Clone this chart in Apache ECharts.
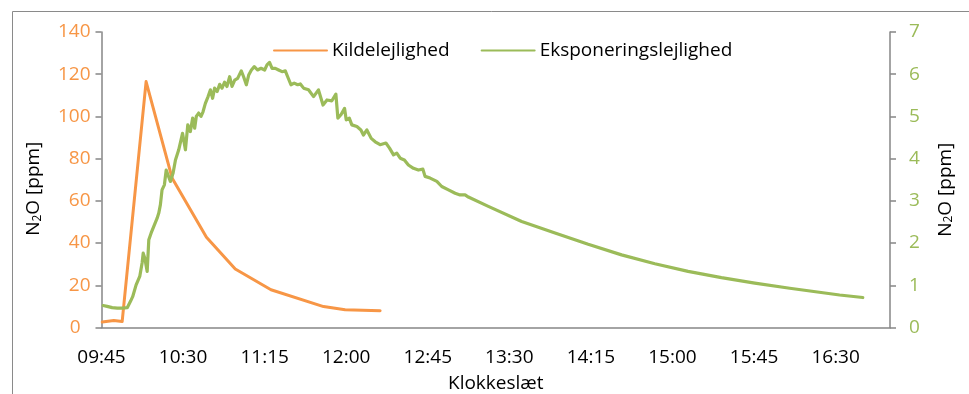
<!DOCTYPE html>
<html>
<head>
<meta charset="utf-8">
<script src="https://cdn.jsdelivr.net/npm/echarts@6/dist/echarts.min.js"></script>
<style>
  html, body { margin: 0; padding: 0; background: #fff; }
  #chart { width: 969px; height: 394px; }
</style>
</head>
<body>
<div id="chart"></div>
<script>
// Time given as minutes after 09:45
const startClockMin = 585; // 09:45
const xTickStep = 45;
const xMax = 435;          // 17:00

const sourceName = 'Kildelejlighed';
const exposureName = 'Eksponeringslejlighed';

const leftTicks = [0, 140, 20];   // min, max, step
const rightTicks = [0, 7, 1];

// Kildelejlighed (left axis, ppm)
const orangeMin = [0.4, 6.8, 11.4, 24.6, 39.0, 57.9, 73.8, 93.5, 122.5, 134.4, 153.7];
const orangePpm = [2.6, 3.3, 2.8, 116.5, 70.7, 42.8, 27.7, 17.9, 9.9, 8.4, 7.9];

// Eksponeringslejlighed (right axis, ppm)
const greenMin = [0.9, 3.1, 5.9, 8.7, 11.4, 14.2, 16.0, 17.2, 19.1, 20.2,
  21.1, 22.4, 23.0, 23.9, 25.2, 26.1, 27.4, 28.8, 30.7, 31.6,
  32.5, 33.4, 34.7, 35.7, 36.8, 38.0, 39.5, 40.8, 42.6, 44.7,
  46.3, 47.6, 49.0, 50.3, 51.4, 52.3, 53.6, 54.9, 56.0, 57.3,
  58.8, 60.1, 61.3, 62.4, 63.8, 65.2, 66.5, 67.9, 69.2, 70.7,
  72.0, 73.5, 75.1, 77.1, 78.4, 79.9, 81.2, 82.7, 84.3, 86.1,
  88.0, 90.0, 91.3, 92.7, 94.1, 95.9, 97.7, 99.6, 101.4, 102.7,
  104.5, 106.3, 108.2, 109.7, 111.5, 114.2, 117.0, 119.7, 122.2, 124.4,
  127.1, 129.3, 130.4, 132.1, 134.1, 135.0, 136.7, 138.1, 140.9, 143.1,
  144.5, 146.4, 148.8, 151.0, 153.7, 156.9, 158.9, 161.1, 162.9, 164.8,
  167.1, 169.3, 172.1, 174.8, 177.3, 178.5, 181.3, 185.0, 187.7, 191.4,
  195.1, 197.8, 200.6, 202.4, 213.4, 231.8, 250.2, 268.5, 286.9, 305.3,
  323.6, 342.0, 360.4, 379.7, 407.2, 420.0];
const greenPpm = [0.52, 0.50, 0.47, 0.46, 0.46, 0.47, 0.62, 0.73, 1.01, 0.97,
  1.21, 1.53, 1.76, 1.64, 1.33, 2.08, 2.24, 2.39, 2.59, 2.71,
  2.91, 3.26, 3.38, 3.73, 3.77, 3.46, 3.66, 3.97, 4.21, 4.60,
  4.21, 4.80, 4.64, 4.96, 4.72, 5.00, 5.08, 5.00, 5.11, 5.31,
  5.47, 5.63, 5.43, 5.67, 5.59, 5.76, 5.67, 5.81, 5.71, 5.94,
  5.71, 5.86, 5.90, 6.08, 5.94, 5.75, 5.98, 6.10, 6.18, 6.10,
  6.14, 6.10, 6.22, 6.28, 6.14, 6.14, 6.10, 6.06, 6.08, 5.94,
  5.75, 5.79, 5.75, 5.77, 5.67, 5.63, 5.47, 5.63, 5.27, 5.39,
  5.37, 5.53, 4.96, 5.04, 5.19, 4.92, 4.96, 4.80, 4.76, 4.68,
  4.56, 4.68, 4.48, 4.40, 4.33, 4.37, 4.25, 4.09, 4.13, 4.01,
  3.97, 3.85, 3.77, 3.73, 3.75, 3.58, 3.54, 3.46, 3.34, 3.26,
  3.18, 3.14, 3.14, 3.09, 2.87, 2.51, 2.24, 1.97, 1.72, 1.51,
  1.33, 1.18, 1.05, 0.93, 0.77, 0.71];

const ORANGE = '#F79646';
const GREEN = '#9BBB59';
const AXIS = '#868686';
const FONT = '"Open Sans", "DejaVu Sans", sans-serif';
const FS = 19;

function clock(m) {
  const t = Math.round(startClockMin + m);
  const h = Math.floor(t / 60), mm = t % 60;
  return String(h).padStart(2, '0') + ':' + String(mm).padStart(2, '0');
}

const chart = echarts.init(document.getElementById('chart'), null, { renderer: 'canvas' });

function nameStyle(padRight) {
  return {
    fontFamily: FONT, fontSize: FS, color: '#000',
    padding: [0, padRight, 0, 0],
    rich: {
      sub: { fontFamily: FONT, fontSize: 12, color: '#000', verticalAlign: 'bottom', lineHeight: 12 }
    }
  };
}

chart.setOption({
  animation: false,
  textStyle: { fontFamily: FONT },
  graphic: [{
    type: 'rect', silent: true, z: -10,
    shape: { x: 12.5, y: 11.5, width: 2000, height: 2000 },
    style: { fill: 'none', stroke: '#8a8a8a', lineWidth: 1 }
  }],
  grid: { left: 101.5, right: 79, top: 32, bottom: 66.5, containLabel: false, outerBoundsMode: 'none' },
  legend: {
    left: 268, top: 36,
    itemWidth: 53, itemHeight: 14, itemGap: 31,
    itemStyle: { opacity: 0, borderWidth: 0 },
    textStyle: { fontFamily: FONT, fontSize: FS, color: '#000' },
    data: [sourceName, exposureName]
  },
  xAxis: {
    type: 'value', min: 0, max: xMax, interval: xTickStep,
    name: 'Klokkeslæt', nameLocation: 'middle', nameGap: 47,
    nameTextStyle: { fontFamily: FONT, fontSize: FS, color: '#000' },
    axisLine: { show: true, onZero: false, lineStyle: { color: AXIS, width: 1.5 } },
    axisTick: { show: false },
    splitLine: { show: false },
    axisLabel: {
      showMaxLabel: false, margin: 21,
      fontFamily: FONT, fontSize: FS, color: '#000',
      formatter: v => clock(v)
    }
  },
  yAxis: [{
    type: 'value', position: 'left',
    min: leftTicks[0], max: leftTicks[1], interval: leftTicks[2],
    name: 'N{sub|2}O [ppm]', nameLocation: 'middle', nameRotate: 90, nameGap: 58,
    nameTextStyle: nameStyle(18),
    axisLine: { show: true, lineStyle: { color: AXIS, width: 1.5 } },
    axisTick: { show: true, length: 6, lineStyle: { color: AXIS, width: 1.5 } },
    splitLine: { show: false },
    axisLabel: {
      margin: 11, fontFamily: FONT, fontSize: FS, color: ORANGE,
      formatter: v => v === 0 ? '{z|0}' : String(v),
      rich: { z: { fontFamily: FONT, fontSize: FS, color: ORANGE, padding: [0, 10, 0, 0] } }
    }
  }, {
    type: 'value', position: 'right',
    min: rightTicks[0], max: rightTicks[1], interval: rightTicks[2],
    name: 'N{sub|2}O [ppm]', nameLocation: 'middle', nameRotate: 90, nameGap: 46,
    nameTextStyle: nameStyle(20),
    axisLine: { show: true, lineStyle: { color: AXIS, width: 1.5 } },
    axisTick: { show: true, length: 6, lineStyle: { color: AXIS, width: 1.5 } },
    splitLine: { show: false },
    axisLabel: { margin: 19, fontFamily: FONT, fontSize: FS, color: GREEN }
  }],
  series: [{
    name: sourceName, type: 'line', yAxisIndex: 0,
    symbol: 'none', showSymbol: false,
    data: orangeMin.map((m, i) => [m, orangePpm[i]]),
    lineStyle: { color: ORANGE, width: 3, join: 'round', cap: 'round' },
    itemStyle: { color: ORANGE },
    z: 2
  }, {
    name: exposureName, type: 'line', yAxisIndex: 1,
    symbol: 'none', showSymbol: false,
    data: greenMin.map((m, i) => [m, greenPpm[i]]),
    lineStyle: { color: GREEN, width: 3.2, join: 'round', cap: 'round' },
    itemStyle: { color: GREEN },
    z: 3
  }]
});
</script>
</body>
</html>
